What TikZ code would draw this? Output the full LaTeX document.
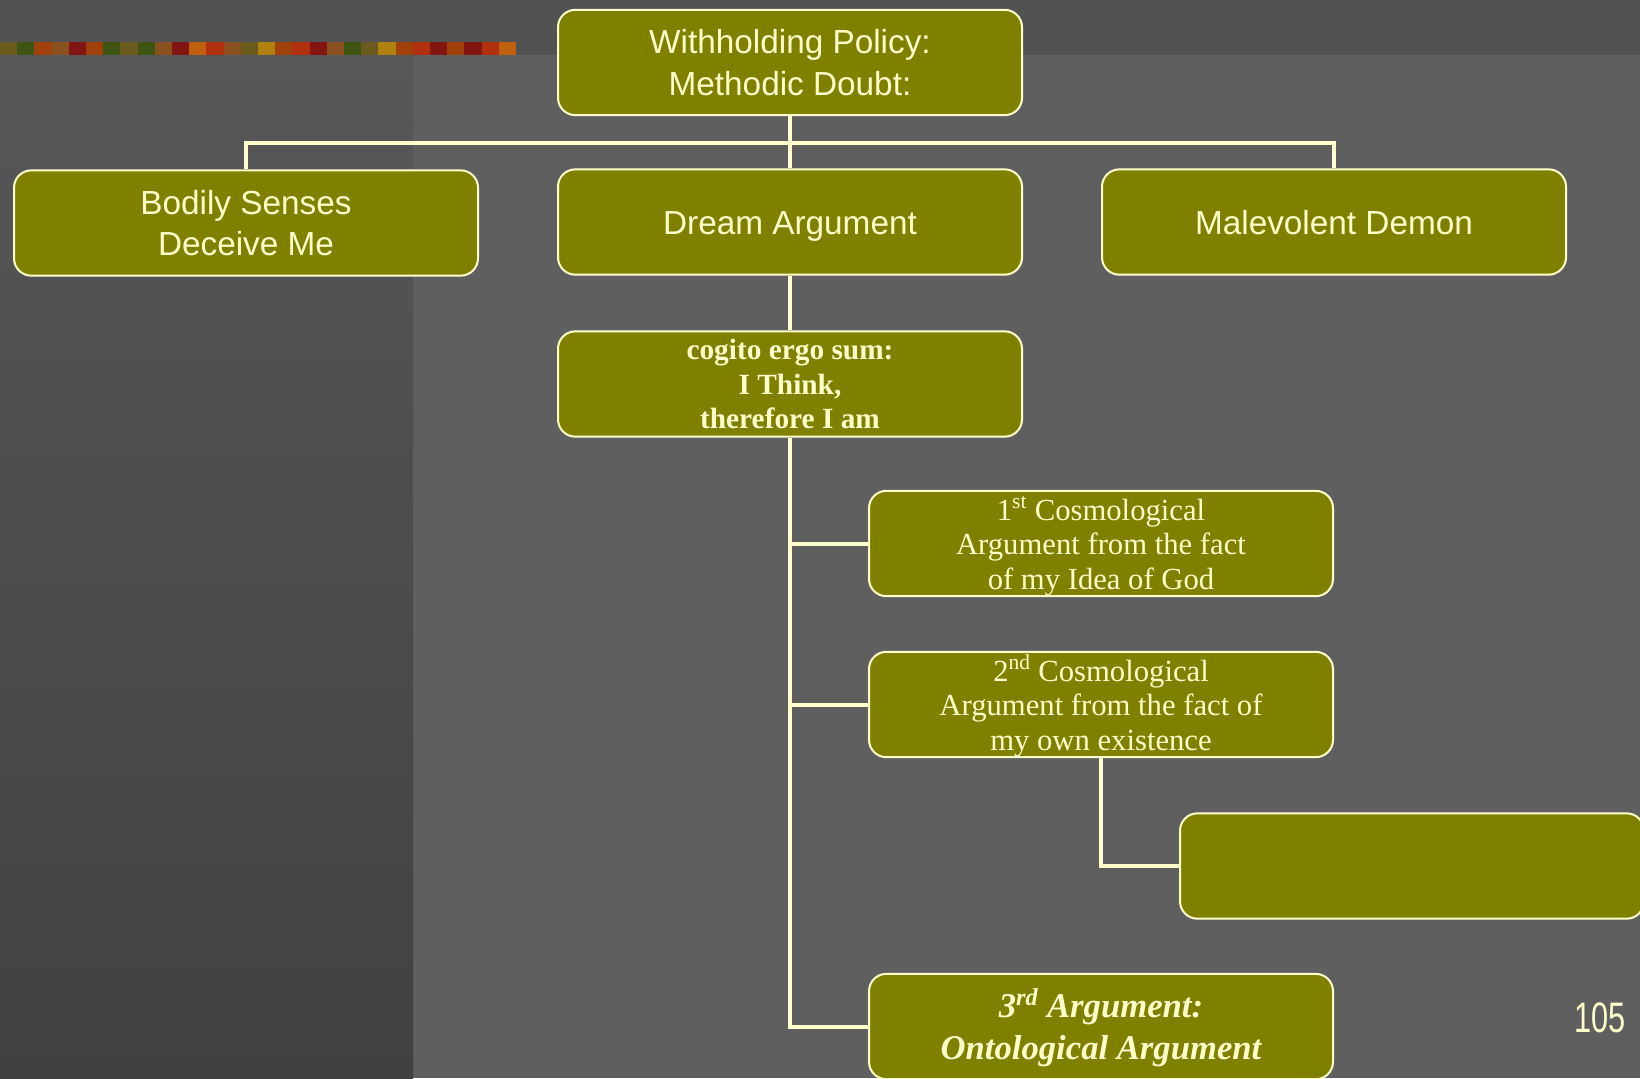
\documentclass[tikz,border=0pt]{standalone}
\usepackage{fontspec}
\setmainfont{Liberation Serif}
\setsansfont{Liberation Sans}
\definecolor{olivebox}{HTML}{808000}
\definecolor{cream}{HTML}{FFFFCC}
\definecolor{slidegray}{HTML}{5F5F5F}
\definecolor{bandgray}{HTML}{525252}
\definecolor{paneltop}{HTML}{575757}
\definecolor{panelbot}{HTML}{414141}
\definecolor{stripeA}{HTML}{6B5A1E}
\definecolor{stripeB}{HTML}{A0400A}
\definecolor{stripeC}{HTML}{3E5412}
\definecolor{stripeD}{HTML}{821412}
\definecolor{stripeE}{HTML}{C0600E}
\definecolor{stripeF}{HTML}{8A5020}
\definecolor{stripeG}{HTML}{B03010}
\definecolor{stripeH}{HTML}{B08010}
\newcommand{\sups}[1]{\smash{\textsuperscript{#1}}}
\newcommand{\topstrut}{\rule{0pt}{22pt}}

\begin{document}
\begin{tikzpicture}[x=0.75pt,y=-0.75pt,
   box/.style={rectangle,rounded corners=13pt,draw=cream,line width=1.5pt,fill=olivebox,
               text=cream,minimum width=348pt,minimum height=79pt,align=center,inner sep=0pt},
   sansbox/.style={box,font=\sffamily\fontsize{25}{31}\selectfont},
   oneline/.style={text height=18pt,text depth=0pt},
   boldbox/.style={box,font=\bfseries\fontsize{22}{26}\selectfont},
   plainbox/.style={box,font=\fontsize{23}{26}\selectfont},
   italbox/.style={box,font=\bfseries\itshape\fontsize{26}{31.5}\selectfont},
   link/.style={draw=cream,line width=3pt}]
   % slide background
   \useasboundingbox (0,0) rectangle (1640,1078);
   \fill[slidegray] (0,0) rectangle (1640,1078);
   \fill[bandgray] (0,0) rectangle (1640,55);
   \shade[top color=paneltop,bottom color=panelbot] (0,55) rectangle (413,1078);
   \foreach \c [count=\i from 0] in {stripeA,stripeC,stripeB,stripeF,stripeD,stripeB,stripeC,stripeA,
                                     stripeC,stripeF,stripeD,stripeE,stripeG,stripeF,stripeA,stripeH,
                                     stripeB,stripeG,stripeD,stripeF,stripeC,stripeA,stripeH,stripeB,
                                     stripeG,stripeD,stripeB,stripeD,stripeG,stripeE}
      \fill[\c] (\i*17.2,42) rectangle ++(17.2,13);

   % boxes
   \node (doubt) at (790,62.5) [sansbox] {Withholding Policy:\\Methodic Doubt:};
   \node (senses) at (246,223) [sansbox] {Bodily Senses\\Deceive Me};
   \node (dream) at (790,222) [sansbox,oneline] {Dream Argument};
   \node (demon) at (1334,222) [sansbox,oneline] {Malevolent Demon};
   \node (cogito) at (790,384) [boldbox] {cogito ergo sum:\\I Think,\\therefore I am};
   \node (cosmoA) at (1101,543.5) [plainbox] {\topstrut 1\sups{st} Cosmological\\Argument from the fact\\of my Idea of God};
   \node (cosmoB) at (1101,704.5) [plainbox] {\topstrut 2\sups{nd} Cosmological\\Argument from the fact of\\my own existence};
   \node (blank) at (1412,866) [box] {};
   \node (onto) at (1101,1026.5) [italbox] {\rule{0pt}{23pt}3\sups{rd} Argument:\\Ontological Argument};
   \node (pagenum) at (1600,1018) [text=cream,font=\sffamily\fontsize{32}{32}\selectfont] {\scalebox{0.72}[1]{105}};

   % connectors
   \coordinate (bus) at (790,143);
   \draw[link] (doubt.south) -- (bus);
   \draw[link] (senses.north) |- (bus) -| (demon.north);
   \draw[link] (bus) -- (dream.north);
   \draw[link] (dream.south) -- (cogito.north);
   \draw[link] (cogito.south) |- (cosmoA.west);
   \draw[link] (cogito.south) |- (cosmoB.west);
   \draw[link] (cogito.south) |- (onto.west);
   \draw[link] (cosmoB.south) |- (blank.west);
\end{tikzpicture}
\end{document}
